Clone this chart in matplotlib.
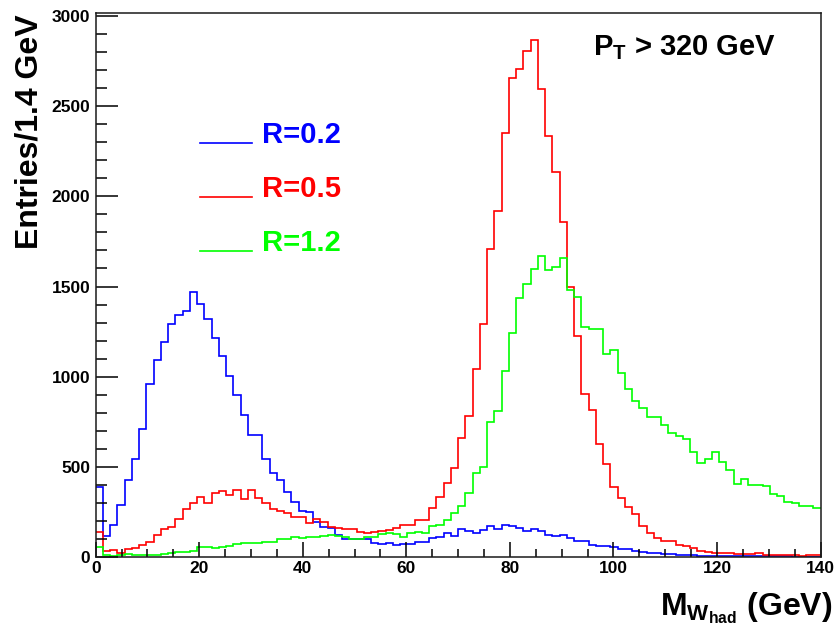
import numpy as np
import matplotlib
matplotlib.use("Agg")
import matplotlib.pyplot as plt
from matplotlib.lines import Line2D
from matplotlib.ticker import MultipleLocator

# ---- data (100 bins of 1.4 GeV from 0 to 140) ----
bin_lo, bin_hi, n_bins = 0.0, 140.0, 100

r02 = [386, 116, 175, 286, 426, 546, 712, 960, 1091, 1194,
       1294, 1344, 1362, 1471, 1405, 1322, 1214, 1113, 1004, 897,
       786, 677, 677, 543, 467, 426, 358, 306, 257, 247,
       196, 164, 159, 122, 100, 98, 98, 98, 76, 70,
       76, 66, 70, 72, 82, 82, 103, 109, 131, 116,
       153, 146, 135, 150, 173, 155, 177, 170, 162, 146,
       153, 146, 122, 116, 124, 105, 89, 87, 66, 62,
       59, 58, 42, 42, 35, 30, 20, 20, 17, 17,
       11, 10, 9, 8, 8, 7, 6, 6, 5, 5,
       4, 4, 4, 3, 3, 3, 2, 2, 2, 2]

r05 = [137, 33, 39, 24, 43, 50, 65, 81, 120, 157,
       168, 212, 267, 297, 331, 301, 353, 365, 343, 371,
       323, 371, 325, 301, 264, 257, 246, 223, 220, 186,
       210, 192, 164, 159, 153, 153, 140, 135, 138, 146,
       150, 159, 180, 178, 207, 205, 269, 334, 408, 495,
       661, 783, 1045, 1290, 1709, 1921, 2350, 2656, 2704, 2807,
       2866, 2595, 2335, 2137, 1857, 1497, 1226, 906, 814, 626,
       517, 389, 329, 275, 236, 173, 131, 103, 90, 90,
       66, 61, 48, 35, 30, 20, 20, 24, 17, 15,
       17, 20, 11, 10, 12, 9, 11, 8, 10, 9]

r12 = [54, 11, 5, 9, 17, 9, 9, 13, 9, 17,
       22, 26, 30, 35, 54, 58, 50, 54, 61, 72,
       76, 80, 75, 82, 85, 100, 98, 109, 103, 113,
       109, 116, 122, 116, 109, 98, 98, 109, 113, 127,
       131, 127, 113, 135, 138, 135, 173, 175, 205, 246,
       281, 353, 468, 500, 748, 809, 1032, 1244, 1437, 1513,
       1596, 1668, 1589, 1608, 1659, 1480, 1443, 1277, 1266, 1266,
       1128, 1146, 1021, 932, 864, 827, 777, 777, 731, 685,
       672, 652, 583, 522, 543, 580, 528, 482, 404, 430,
       399, 399, 393, 349, 338, 306, 297, 282, 282, 269]

series = [r02, r05, r12]
labels = ["R=0.2", "R=0.5", "R=1.2"]
colors = ["#0000ff", "#ff0000", "#00ff00"]

x_major, x_minor = 20, 5
y_major, y_minor = 500, 100

# ---- style ----
plt.rcParams['font.family'] = ['Liberation Sans', 'DejaVu Sans']
plt.rcParams['font.weight'] = 'bold'
plt.rcParams['mathtext.fontset'] = 'custom'
plt.rcParams['mathtext.rm'] = 'Liberation Sans:bold'
plt.rcParams['mathtext.bf'] = 'Liberation Sans:bold'
plt.rcParams['mathtext.it'] = 'Liberation Sans:bold'
plt.rcParams['mathtext.sf'] = 'Liberation Sans:bold'
plt.rcParams['mathtext.default'] = 'bf'

W, H = 837, 631
fig = plt.figure(figsize=(W / 100, H / 100), dpi=100)
L, R, T, B = 95.7, 820.5, 13.3, 557.0
ax = fig.add_axes([L / W, 1 - B / H, (R - L) / W, (B - T) / H])

edges = np.linspace(bin_lo, bin_hi, n_bins + 1)
for vals, c in zip(series, colors):
    ax.stairs(vals, edges, baseline=None, color=c, lw=1.2)

ax.set_xlim(bin_lo, bin_hi)
ax.set_ylim(0, 3015)

ax.xaxis.set_major_locator(MultipleLocator(x_major))
ax.xaxis.set_minor_locator(MultipleLocator(x_minor))
ax.yaxis.set_major_locator(MultipleLocator(y_major))
ax.yaxis.set_minor_locator(MultipleLocator(y_minor))

ax.tick_params(axis='x', which='major', direction='in', length=11, width=1.1,
               labelsize=12.5, pad=3)
ax.tick_params(axis='x', which='minor', direction='in', length=5.5, width=1.1)
ax.tick_params(axis='y', which='major', direction='in', length=16, width=1.1,
               labelsize=12.5, pad=4)
ax.tick_params(axis='y', which='minor', direction='in', length=8, width=1.1)
ax.tick_params(top=False, right=False, which='both')
for lab in ax.get_xticklabels() + ax.get_yticklabels():
    lab.set_fontweight('bold')
for s in ax.spines.values():
    s.set_linewidth(1.1)
    s.set_color('#1a1a1a')

# axis titles
fig.text(30 / W, 1 - 14 / H, 'Entries/1.4 GeV', rotation=90, ha='center',
         va='top', fontsize=23, fontweight='bold')
fig.text(832 / W, 1 - 615 / H, r'M$_{W_{had}}$ (GeV)', ha='right',
         va='baseline', fontsize=23, fontweight='bold')

# cut label
fig.text(593 / W, 1 - 55 / H, r'P$_{T}$ > 320 GeV', ha='left', va='baseline',
         fontsize=21, fontweight='bold')

# legend
leg_y = [142.7, 196.7, 250.7]
for yy, lab, c in zip(leg_y, labels, colors):
    fig.add_artist(Line2D([200 / W, 252 / W], [1 - yy / H, 1 - yy / H],
                          color=c, lw=1.2, transform=fig.transFigure))
    fig.text(262 / W, 1 - yy / H, lab, color=c, ha='left', va='baseline',
             fontsize=21, fontweight='bold')

fig.savefig('out.png', dpi=100)
